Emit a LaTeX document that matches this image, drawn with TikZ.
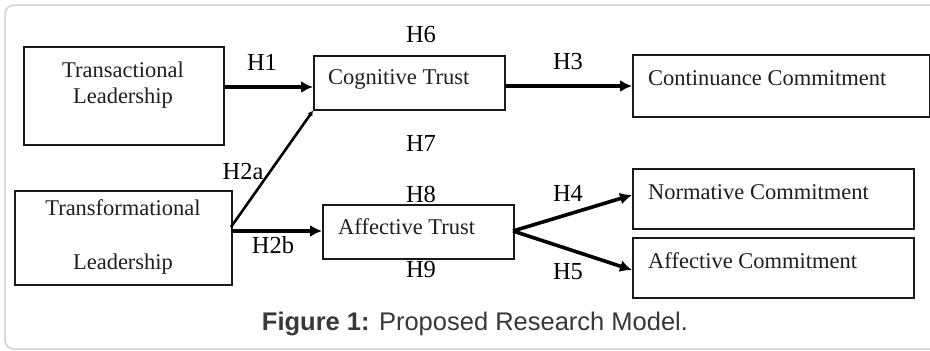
\documentclass[tikz,border=0pt]{standalone}
\usepackage{fontspec}
\setmainfont{Liberation Serif}
\newfontfamily\capfont{Liberation Sans}
\usetikzlibrary{arrows.meta}
\tikzset{
  box/.style={draw=black!90, line width=1.7pt, anchor=north west, inner sep=0pt},
  btext/.style={anchor=base west, inner sep=0pt, text=black!88, font=\fontsize{22.5}{26}\selectfont},
  ctext/.style={anchor=base, inner sep=0pt, text=black!88, font=\fontsize{22.5}{26}\selectfont},
  hlab/.style={anchor=center, inner sep=0pt, font=\fontsize{24.5}{28}\selectfont},
  conn/.style={line width=3.6pt, -{Latex[length=12pt,width=12pt]}},
  thin conn/.style={line width=2.6pt, -{Latex[length=5pt,width=6pt]}}
}
\begin{document}
\begin{tikzpicture}[x=1pt,y=-1pt]
\useasboundingbox (0,0) rectangle (930,351);
\fill[white] (0,0) rectangle (930,351);
\draw[draw=black!18, line width=1.5pt, rounded corners=9pt] (5,5) rectangle (950,349);

% boxes
\node[box, minimum width=200pt, minimum height=98pt] (tl) at (23,46) {};
\node[box, minimum width=217pt, minimum height=94pt] (tf) at (14,190) {};
\node[box, minimum width=191pt, minimum height=54pt] (ct) at (313,55) {};
\node[box, minimum width=191pt, minimum height=54pt] (at) at (322,204) {};
\node[box, minimum width=297pt, minimum height=62pt] (cc) at (632,54) {};
\node[box, minimum width=281pt, minimum height=60pt] (nc) at (632,168) {};
\node[box, minimum width=281pt, minimum height=60pt] (ac) at (632,237) {};

% box texts
\node[ctext] (tl1) at (123,77) {Transactional};
\node[ctext] (tl2) at (123,103) {Leadership};
\node[ctext] (tf1) at (123,215) {Transformational};
\node[ctext] (tf2) at (123,269) {Leadership};
\node[btext] (ctt) at (328,84) {Cognitive Trust};
\node[btext] (att) at (338,234) {Affective Trust};
\node[btext] (cct) at (648,85) {Continuance Commitment};
\node[btext] (nct) at (648,199) {Normative Commitment};
\node[btext] (act) at (648,268) {Affective Commitment};

% connectors
\coordinate (tfo) at (231,227);
\coordinate (tfo2) at (231,231);
\draw[conn] (tl.east |- 0,87) -- (ct.west |- 0,87);
\draw[conn] (ct.east |- 0,86) -- (cc.west |- 0,86);
\draw[thin conn] (tfo) -- (ct.south west);
\draw[conn] (tfo2) -- (at.west |- tfo2);
\coordinate (ato) at (513,231);
\draw[conn] (ato) -- (nc.west |- 0,195);
\draw[conn] (ato) -- (ac.west |- 0,270);

% hypothesis labels
\node[hlab] (h1) at (262,62) {H1};
\node[hlab] (h6) at (421,35) {H6};
\node[hlab] (h3) at (568,62) {H3};
\node[hlab] (h7) at (421,143) {H7};
\node[hlab] (h2a) at (243,172) {H2a};
\node[hlab] (h8) at (421,194) {H8};
\node[hlab] (h4) at (568,193) {H4};
\node[hlab] (h2b) at (273,245) {H2b};
\node[hlab] (h9) at (421,270) {H9};
\node[hlab] (h5) at (568,272) {H5};

% caption
\node[anchor=base, inner sep=0pt, text=black!78, font=\capfont\fontsize{25.5}{30}\selectfont] (cap) at (475,330) {\textbf{Figure 1:} Proposed Research Model.};
\end{tikzpicture}
\end{document}
